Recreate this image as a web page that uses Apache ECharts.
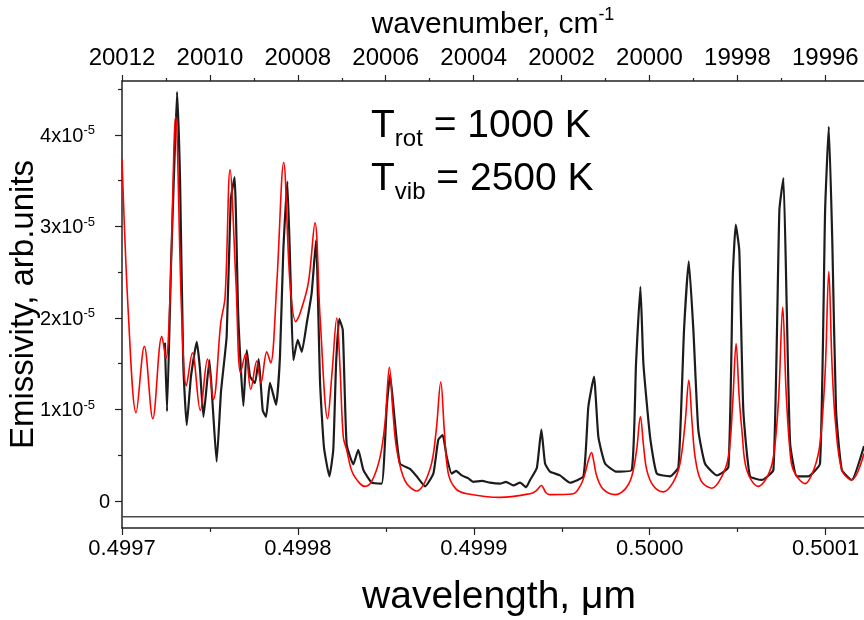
<!DOCTYPE html>
<html>
<head>
<meta charset="utf-8">
<script src="https://cdn.jsdelivr.net/npm/echarts@6/dist/echarts.min.js"></script>
<style>
html,body{margin:0;padding:0;background:#fff;}
#chart{width:864px;height:620px;}
</style>
</head>
<body>
<div id="chart"></div>
<script>
// ---- data (emissivity in units of 1e-5, wavelength in micrometres) ----
const blackWl = [0.4997244,0.4997256,0.4997279,0.4997296,0.4997313,0.4997330,0.4997348,0.4997368,0.4997392,0.4997425,
0.4997443,0.4997463,0.4997497,0.4997517,0.4997538,0.4997563,0.4997595,0.4997618,0.4997640,0.4997661,
0.4997690,0.4997709,0.4997728,0.4997756,0.4997777,0.4997800,0.4997819,0.4997841,0.4997876,0.4997898,
0.4997917,0.4997940,0.4997959,0.4997974,0.4997999,0.4998022,0.4998050,0.4998078,0.4998103,0.4998126,
0.4998148,0.4998179,0.4998201,0.4998217,0.4998235,0.4998255,0.4998277,0.4998315,0.4998343,0.4998372,
0.4998420,0.4998476,0.4998505,0.4998524,0.4998552,0.4998580,0.4998637,0.4998675,0.4998723,0.4998770,
0.4998798,0.4998823,0.4998846,0.4998874,0.4998899,0.4998931,0.4998967,0.4998997,0.4999047,0.4999092,
0.4999149,0.4999183,0.4999225,0.4999263,0.4999297,0.4999320,0.4999358,0.4999384,0.4999405,0.4999433,
0.4999490,0.4999547,0.4999623,0.4999651,0.4999683,0.4999708,0.4999746,0.4999812,0.4999898,0.4999922,
0.4999947,0.4999964,0.5000002,0.5000040,0.5000115,0.5000163,0.5000195,0.5000222,0.5000248,0.5000276,
0.5000314,0.5000381,0.5000447,0.5000472,0.5000489,0.5000509,0.5000532,0.5000570,0.5000637,0.5000703,
0.5000737,0.5000760,0.5000779,0.5000798,0.5000836,0.5000902,0.5000968,0.5000997,0.5001018,0.5001038,
0.5001059,0.5001092,0.5001148,0.5001218];
const blackE = [1.73,0.98,2.60,3.60,4.47,3.51,1.51,0.83,1.36,1.74,
1.45,0.92,1.54,1.00,0.43,1.20,1.80,3.29,3.54,2.01,
1.04,1.65,1.36,1.29,1.55,0.99,0.92,1.29,1.05,1.58,
2.74,3.49,2.38,1.54,1.76,1.63,1.94,2.27,2.85,1.29,
0.59,0.27,0.56,1.50,1.99,1.87,0.62,0.40,0.56,0.34,
0.20,0.19,1.03,1.38,0.85,0.41,0.35,0.27,0.16,0.30,
0.67,0.72,0.48,0.30,0.33,0.28,0.25,0.21,0.22,0.20,
0.19,0.21,0.17,0.20,0.15,0.23,0.36,0.78,0.41,0.32,
0.28,0.20,0.27,1.03,1.36,0.70,0.41,0.32,0.34,1.50,
2.34,1.50,0.70,0.30,0.27,0.37,1.87,2.62,1.87,0.78,
0.41,0.28,0.37,2.45,3.02,2.74,0.99,0.27,0.23,0.34,
3.18,3.53,2.09,0.63,0.27,0.27,0.41,3.18,4.09,2.82,
0.99,0.34,0.23,0.60];

const redWl = [0.4997000,0.4997036,0.4997080,0.4997127,0.4997175,0.4997226,0.4997250,0.4997273,0.4997305,0.4997339,
0.4997366,0.4997400,0.4997445,0.4997486,0.4997520,0.4997561,0.4997586,0.4997614,0.4997648,0.4997674,
0.4997703,0.4997732,0.4997766,0.4997790,0.4997823,0.4997845,0.4997880,0.4997919,0.4997955,0.4997988,
0.4998012,0.4998059,0.4998097,0.4998126,0.4998169,0.4998194,0.4998221,0.4998239,0.4998258,0.4998277,
0.4998308,0.4998353,0.4998381,0.4998421,0.4998467,0.4998495,0.4998520,0.4998541,0.4998562,0.4998609,
0.4998675,0.4998751,0.4998785,0.4998812,0.4998833,0.4998855,0.4998899,0.4998960,0.4999149,0.4999320,
0.4999354,0.4999384,0.4999410,0.4999433,0.4999566,0.4999609,0.4999632,0.4999652,0.4999669,0.4999683,
0.4999699,0.4999735,0.4999803,0.4999860,0.4999898,0.4999925,0.4999947,0.4999965,0.4999983,0.5000019,
0.5000077,0.5000132,0.5000172,0.5000201,0.5000222,0.5000241,0.5000258,0.5000292,0.5000353,0.5000405,
0.5000447,0.5000471,0.5000491,0.5000508,0.5000525,0.5000551,0.5000617,0.5000667,0.5000703,0.5000732,
0.5000756,0.5000775,0.5000795,0.5000816,0.5000883,0.5000934,0.5000968,0.5000997,0.5001018,0.5001036,
0.5001056,0.5001092,0.5001148,0.5001218];
const redE = [3.74,2.05,0.965,1.69,0.90,1.80,1.56,2.23,4.20,2.05,
1.26,1.62,0.99,1.55,1.11,1.94,2.23,3.62,2.38,1.40,
1.61,1.22,1.53,1.29,1.63,1.51,2.38,3.70,2.38,1.96,
2.05,2.38,3.04,2.01,0.90,1.40,2.00,1.47,0.70,0.56,
0.32,0.19,0.16,0.22,0.48,0.85,1.46,0.95,0.56,0.22,
0.11,0.35,0.75,1.30,0.75,0.30,0.13,0.08,0.04,0.08,
0.11,0.17,0.09,0.07,0.08,0.18,0.30,0.45,0.53,0.42,
0.27,0.13,0.07,0.13,0.27,0.55,0.92,0.60,0.34,0.17,
0.10,0.20,0.41,0.85,1.32,0.85,0.48,0.22,0.14,0.25,
0.48,1.05,1.72,1.15,0.75,0.34,0.16,0.26,0.48,1.10,
2.12,1.20,0.60,0.34,0.19,0.35,0.63,1.40,2.51,1.50,
0.85,0.34,0.23,0.52];

const baseWl = [0.4997000, 0.5001218];
const baseE = [-0.172, -0.172];

const wlMajor = [0.4997, 0.4998, 0.4999, 0.5000, 0.5001];
const wlMinor = [0.49975, 0.49985, 0.49995, 0.50005];
const wnMajor = [19996, 19998, 20000, 20002, 20004, 20006, 20008, 20010, 20012];
const wnMinor = [19997, 19999, 20001, 20003, 20005, 20007, 20009, 20011];
const yMajor = [0, 1, 2, 3, 4];
const yMinor = [0.5, 1.5, 2.5, 3.5, 4.5];

const FONT = '"Liberation Sans", Arial, Helvetica, sans-serif';
const AX = '#222';

const pairs = (xs, ys) => xs.map((x, i) => [x, ys[i]]);

const chart = echarts.init(document.getElementById('chart'), null, {renderer: 'canvas'});
chart.setOption({
  animation: false,
  backgroundColor: '#fff',
  grid: {left: 122, right: 0, top: 81, bottom: 92, containLabel: false, outerBoundsMode: 'none'},
  xAxis: [
    {
      type: 'value', position: 'bottom', min: 0.4997, max: 0.5001218,
      axisLine: {show: true, onZero: false, lineStyle: {color: AX, width: 1.5}},
      axisTick: {show: true, customValues: wlMajor, length: 7, lineStyle: {color: AX, width: 1.2}},
      axisLabel: {customValues: wlMajor, formatter: v => v.toFixed(4), fontSize: 22, margin: 10, color: '#000', fontFamily: FONT},
      splitLine: {show: false},
      name: 'wavelength, μm', nameLocation: 'middle', nameGap: 50, nameMoveOverlap: false,
      nameTextStyle: {fontSize: 39, color: '#000', fontFamily: FONT, padding: [0, 0, 0, 12]}
    },
    {
      type: 'value', position: 'bottom', min: 0.4997, max: 0.5001218,
      axisLine: {show: false, onZero: false},
      axisTick: {show: true, customValues: wlMinor, length: 4, lineStyle: {color: AX, width: 1.2}},
      axisLabel: {show: false}, splitLine: {show: false}
    },
    {
      type: 'value', position: 'top', inverse: true, min: 19995.12, max: 20012.0,
      axisLine: {show: true, onZero: false, lineStyle: {color: AX, width: 1.5}},
      axisTick: {show: true, customValues: wnMajor, length: 6, lineStyle: {color: AX, width: 1.2}},
      axisLabel: {customValues: wnMajor, formatter: v => String(v), fontSize: 24, margin: 11, color: '#000', fontFamily: FONT},
      splitLine: {show: false},
      name: '{a|wavenumber, cm}{s|-1}', nameLocation: 'middle', nameGap: 41, nameMoveOverlap: false,
      nameTextStyle: {fontFamily: FONT, color: '#000',
        rich: {a: {fontSize: 30, lineHeight: 34, verticalAlign: 'bottom', fontFamily: FONT, color: '#000'},
               s: {fontSize: 18, lineHeight: 18, verticalAlign: 'top', fontFamily: FONT, color: '#000'}}}
    },
    {
      type: 'value', position: 'top', inverse: true, min: 19995.12, max: 20012.0,
      axisLine: {show: false, onZero: false},
      axisTick: {show: true, customValues: wnMinor, length: 3, lineStyle: {color: AX, width: 1.2}},
      axisLabel: {show: false}, splitLine: {show: false}
    }
  ],
  yAxis: [
    {
      type: 'value', position: 'left', min: -0.295, max: 4.59,
      axisLine: {show: true, onZero: false, lineStyle: {color: AX, width: 1.5}},
      axisTick: {show: true, customValues: yMajor, length: 7, lineStyle: {color: AX, width: 1.2}},
      axisLabel: {
        customValues: yMajor, margin: 12, fontFamily: FONT, color: '#000',
        formatter: v => v === 0 ? '{b|0}' : '{b|' + v + 'x10}{s|-5}{p|\u00a0}',
        rich: {
          b: {fontSize: 20, lineHeight: 22, verticalAlign: 'bottom', fontFamily: FONT, color: '#000'},
          s: {fontSize: 13, lineHeight: 13, verticalAlign: 'top', fontFamily: FONT, color: '#000'},
          p: {fontSize: 13, width: 15, lineHeight: 13}
        }
      },
      splitLine: {show: false},
      name: 'Emissivity, arb.units', nameLocation: 'middle', nameGap: 82, nameMoveOverlap: false,
      nameTextStyle: {fontSize: 33, color: '#000', fontFamily: FONT}
    },
    {
      type: 'value', position: 'left', min: -0.295, max: 4.59,
      axisLine: {show: false, onZero: false},
      axisTick: {show: true, customValues: yMinor, length: 4, lineStyle: {color: AX, width: 1.2}},
      axisLabel: {show: false}, splitLine: {show: false}
    }
  ],
  graphic: [
    {
      type: 'text', left: 371, top: 107,
      style: {
        text: '{t|T}{s|rot}{t| = 1000 K}',
        rich: {
          t: {fontSize: 39, lineHeight: 50, verticalAlign: 'middle', fontFamily: FONT, fill: '#000'},
          s: {fontSize: 24, lineHeight: 25, verticalAlign: 'bottom', fontFamily: FONT, fill: '#000'}
        }
      }
    },
    {
      type: 'text', left: 371, top: 160,
      style: {
        text: '{t|T}{s|vib}{t| = 2500 K}',
        rich: {
          t: {fontSize: 39, lineHeight: 50, verticalAlign: 'middle', fontFamily: FONT, fill: '#000'},
          s: {fontSize: 24, lineHeight: 25, verticalAlign: 'bottom', fontFamily: FONT, fill: '#000'}
        }
      }
    }
  ],
  series: [
    {
      type: 'line', xAxisIndex: 0, yAxisIndex: 0, data: pairs(baseWl, baseE),
      symbol: 'none', silent: true, lineStyle: {color: '#4a4a4a', width: 1.6}
    },
    {
      type: 'line', xAxisIndex: 0, yAxisIndex: 0, data: pairs(blackWl, blackE),
      symbol: 'none', smooth: 0.15, silent: true, lineStyle: {color: '#1c1c1c', width: 2.2}
    },
    {
      type: 'line', xAxisIndex: 0, yAxisIndex: 0, data: pairs(redWl, redE),
      symbol: 'none', smooth: 0.35, silent: true, lineStyle: {color: '#ff0000', width: 1.6}
    }
  ]
});
</script>
</body>
</html>
